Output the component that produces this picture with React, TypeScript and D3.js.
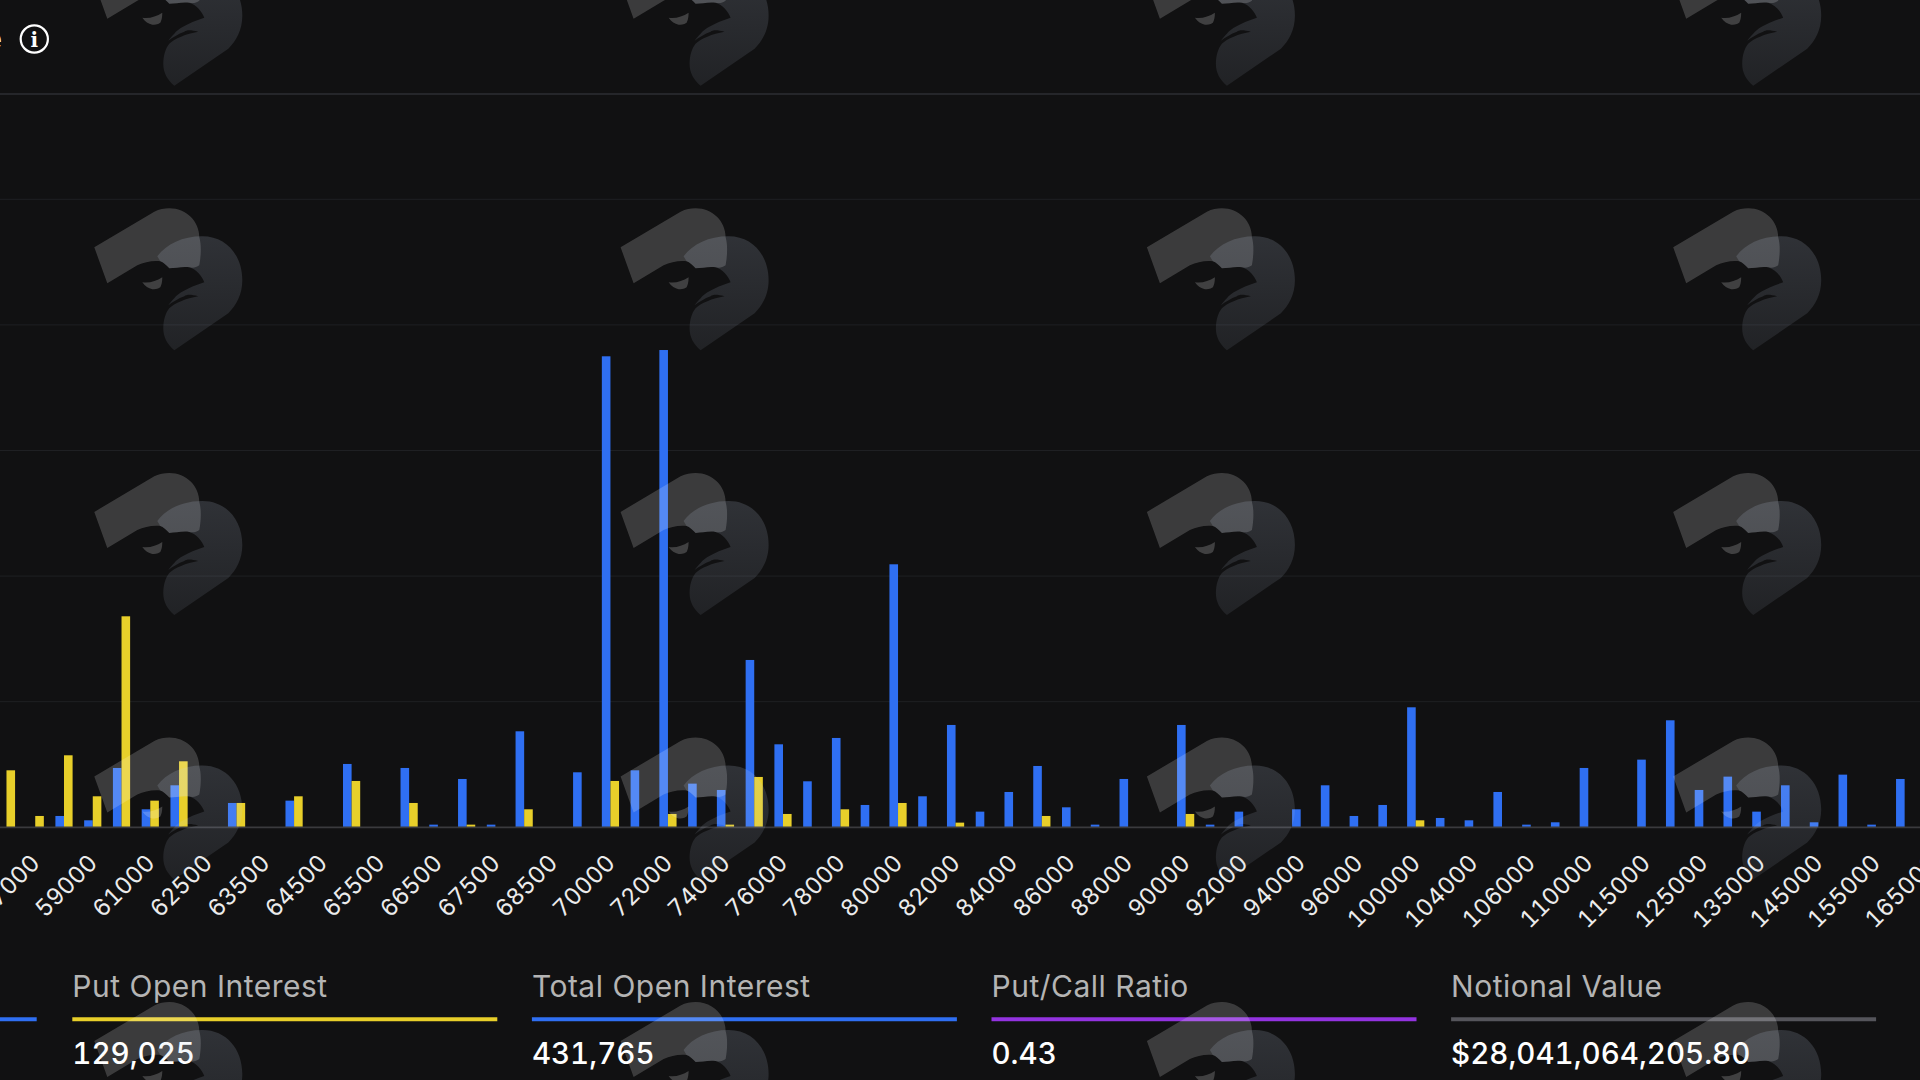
import React from "react";
import * as d3 from "d3";

const strikes = [56000,57000,58000,59000,60000,61000,62000,62500,63000,63500,64000,64500,65000,65500,66000,66500,67000,67500,68000,68500,69000,70000,71000,72000,73000,74000,75000,76000,77000,78000,79000,80000,81000,82000,83000,84000,85000,86000,87000,88000,89000,90000,91000,92000,93000,94000,95000,96000,98000,100000,102000,104000,105000,106000,108000,110000,112000,115000,120000,125000,130000,135000,140000,145000,150000,155000,160000,165000];
const calls = [0,0,902,557,4724,1433,3344,0,1937,0,2123,0,5043,0,4724,212,3848,212,7644,0,4379,37500,4538,38000,3477,2972,13323,6608,3663,7113,1778,20940,2468,8148,1247,2813,4883,1592,212,3848,0,8148,212,1247,0,1433,3344,902,1778,9554,743,557,2813,212,398,4724,0,5388,8519,2972,4034,1247,3344,398,4193,212,3848,0];
const puts = [4538,902,5733,2468,16800,2123,5255,0,1937,0,2468,0,3689,0,1937,0,212,0,1433,0,0,3689,0,1062,0,212,4008,1062,0,1433,0,1937,0,372,0,0,902,0,0,0,0,1062,0,0,0,0,0,0,0,557,0,0,0,0,0,0,0,0,0,0,0,0,0,0,0,0,0,0];
const gridValues = [10000,20000,30000,40000,50000];
const summaryLabels = ["Put Open Interest","Total Open Interest","Put/Call Ratio","Notional Value"];
const summaryValues = ["129,025","431,765","0.43","$28,041,064,205.80"];
const summaryColors = ["#e8cf2a","#2f6ff2","#9333e0","#55555b"];
const markColumns = [0,1,2,3];
const markRows = [-1,0,1,2,3];

const BG = "#111112";
const FONT = "Inter, Roboto, sans-serif";
const STEP = 28.76;
const y = d3.scaleLinear().domain([0,50000]).range([827.3,199.3]);
const x = d3.scaleBand<number>().domain(strikes).range([-7.9,-7.9+strikes.length*STEP]);
const sub = d3.scaleBand<string>().domain(["call","put"]).range([STEP/2-8.6,STEP/2+8.6]);

const birdA = "M0,39 L60,3.4 C65,1 70,0 75,0 C92,0 105,13 105,29 C107,36 107,46 105,57 C102,59 99,60 95,59 C88,58 81,60 75,60 C72,57 69,54 66,53 C58,52 50,54 43,57 L13,75 Z";
const birdB = "M63,48 C72,36 88,28 108,28 C132,28 148,47 148,72 C148,86 142,97 134,105 L80,142 C73,136 69,129 69,120 C69,112 71,105 75,100 C80,95 92,90 104,88 C97,86 92,86 90,88 C84,90 78,94 74,97 C76,94 78,92 80,90 C84,85 92,80 110,74 C108,68 102,61 95,59 C88,58 81,60 75,60 C72,57 69,54 66,53 Z";
const birdEye = "M48,74 C55,75 62,73 68,69 C68,74 67,77 66,79 C63,81 60,81 58,81 C54,80 51,78 48,74 Z";

export default function App() {
  return (
    <svg width={1920} height={1080} viewBox="0 0 1920 1080" style={{position:"fixed",left:0,top:0,background:BG,display:"block"}}>
      <defs>
        <linearGradient id="birdFade" x1="0" y1="0" x2="0" y2="1">
          <stop offset="0" stopColor="#c4d2ea" stopOpacity={0.17}/>
          <stop offset="1" stopColor="#c4d2ea" stopOpacity={0.09}/>
        </linearGradient>
      </defs>
      <rect width={1920} height={1080} fill={BG}/>
      <line x1={0} x2={1920} y1={94} y2={94} stroke="#2d2e33" strokeWidth={1.6}/>
      <text x={2} y={49} textAnchor="end" fill="#fff" fontFamily={FONT} fontSize={28}>e</text>
      <circle cx={34.3} cy={39} r={13.6} fill="none" stroke="#fff" strokeWidth={2.2}/>
      <text x={34.3} y={47} textAnchor="middle" fill="#fff" fontFamily="'DejaVu Serif', serif" fontWeight={700} fontSize={20}>i</text>
      {gridValues.map(v=>(
        <line key={v} x1={0} x2={1920} y1={y(v)} y2={y(v)} stroke="#1f2023" strokeWidth={1}/>
      ))}
      {strikes.map((s,i)=>{
        const x0 = x(s)!;
        return (
          <g key={s}>
            {calls[i]>0 && <rect x={x0+sub("call")!} y={y(calls[i])} width={sub.bandwidth()} height={y(0)-y(calls[i])} fill="#2f6ff2"/>}
            {puts[i]>0 && <rect x={x0+sub("put")!} y={y(puts[i])} width={sub.bandwidth()} height={y(0)-y(puts[i])} fill="#e8cf2a"/>}
          </g>
        );
      })}
      <line x1={0} x2={1920} y1={y(0)} y2={y(0)} stroke="#3a3a3d" strokeWidth={1.8}/>
      {strikes.map((s,i)=> i%2===1 ? (
        <text key={s} transform={`translate(${x(s)!+x.bandwidth()/2},${858.5}) rotate(-45)`} textAnchor="end" dominantBaseline="central" fill="#ececec" fontFamily={FONT} fontSize={23.5} style={{fontFeatureSettings:"'tnum'"}}>{s}</text>
      ):null)}
      <line x1={0} x2={36.7} y1={1019.3} y2={1019.3} stroke="#2f6ff2" strokeWidth={4}/>
      {summaryLabels.map((l,i)=>{
        const lx = 72.3+i*459.6;
        return (
          <g key={l}>
            <text x={lx} y={997} fill="#b4b4b4" fontFamily={FONT} fontSize={30} letterSpacing={0.5}>{l}</text>
            <line x1={lx} x2={lx+425} y1={1019.3} y2={1019.3} stroke={summaryColors[i]} strokeWidth={4}/>
            <text x={lx} y={1064} fill="#fff" fontFamily={FONT} fontSize={29.5} fontWeight={500} style={{fontFeatureSettings:"'tnum'"}}>{summaryValues[i]}</text>
          </g>
        );
      })}
      {markColumns.map(c=>markRows.map(r=>(
        <g key={`${c}-${r}`} transform={`translate(${94.3+c*526.3},${208.3+r*264.6})`}>
          <path d={birdA} fill="#fff" fillOpacity={0.18}/>
          <path d={birdB} fill="url(#birdFade)"/>
          <path d={birdEye} fill="#fff" fillOpacity={0.2}/>
        </g>
      )))}
    </svg>
  );
}
